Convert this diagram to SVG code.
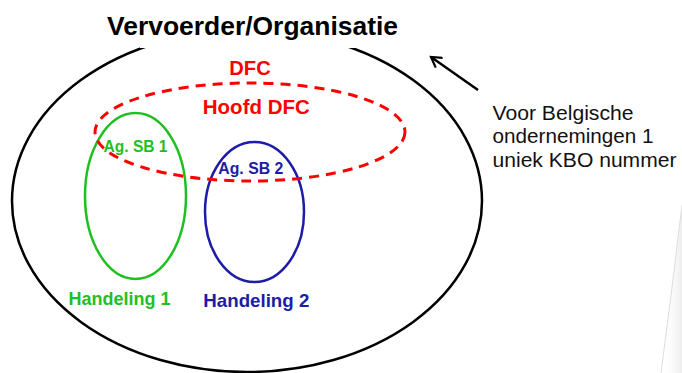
<svg xmlns="http://www.w3.org/2000/svg" width="682" height="373" viewBox="0 0 682 373">
  <defs>
    <style>
      .lbl { font-family: "Liberation Sans", Arial, sans-serif; font-weight: bold; text-anchor: middle; }
      .note { font-family: "Liberation Sans", Arial, sans-serif; font-size: 20.5px; fill: #111; }
      .red { fill: #ff0000; }
      .green { fill: #1fbf1f; }
      .blue { fill: #1c1ca8; }
    </style>
    <marker id="openArrow" markerWidth="14" markerHeight="14" refX="11" refY="7" orient="auto" markerUnits="userSpaceOnUse">
      <path d="M1,1 L11,7 L1,13" fill="none" stroke="#000" stroke-width="2.2"/>
    </marker>
    <linearGradient id="curl" x1="0" y1="0" x2="1" y2="0">
      <stop offset="0" stop-color="#ffffff" stop-opacity="0"/>
      <stop offset="1" stop-color="#eeeeee"/>
    </linearGradient>
  </defs>
  <rect x="0" y="0" width="682" height="373" fill="#ffffff"/>
  <path d="M682,205 Q672,290 661,373 L682,373 Z" fill="url(#curl)"/>
  <path d="M682,205 Q672,290 661,373" fill="none" stroke="#dddddd" stroke-width="1"/>

  <g id="organisatie">
    <ellipse cx="247" cy="201" rx="235" ry="171" fill="none" stroke="#000" stroke-width="2.5"/>
    <rect x="140" y="0" width="217" height="48" fill="#ffffff"/>
    <text class="lbl" x="252.5" y="34.5" font-size="26" fill="#000" textLength="291" lengthAdjust="spacingAndGlyphs">Vervoerder/Organisatie</text>
  </g>

  <g id="handeling1">
    <ellipse cx="135.5" cy="196" rx="50.5" ry="83" fill="none" stroke="#1fbf1f" stroke-width="2.5"/>
    <text class="lbl green" x="135.5" y="152" font-size="16.5" textLength="64" lengthAdjust="spacingAndGlyphs">Ag. SB 1</text>
    <text class="lbl green" x="119.5" y="305" font-size="19" textLength="102" lengthAdjust="spacingAndGlyphs">Handeling 1</text>
  </g>

  <g id="handeling2">
    <ellipse cx="254.5" cy="212" rx="49.5" ry="70" fill="none" stroke="#1c1ca8" stroke-width="2.5"/>
    <text class="lbl blue" x="250.8" y="173.5" font-size="16.5" textLength="65" lengthAdjust="spacingAndGlyphs">Ag. SB 2</text>
    <text class="lbl blue" x="256.3" y="307" font-size="19" textLength="106" lengthAdjust="spacingAndGlyphs">Handeling 2</text>
  </g>

  <g id="dfc">
    <ellipse cx="250" cy="132" rx="155" ry="49" fill="none" stroke="#ff0000" stroke-width="3" stroke-dasharray="10 7"/>
    <text class="lbl red" x="250" y="74.5" font-size="21" textLength="41.4" lengthAdjust="spacingAndGlyphs">DFC</text>
    <text class="lbl red" x="256.3" y="114" font-size="21" textLength="107" lengthAdjust="spacingAndGlyphs">Hoofd DFC</text>
  </g>

  <g id="note">
    <text class="note" x="492.5" y="119.5" textLength="141" lengthAdjust="spacingAndGlyphs">Voor Belgische</text>
    <text class="note" x="492.5" y="143" textLength="161" lengthAdjust="spacingAndGlyphs">ondernemingen 1</text>
    <text class="note" x="492.5" y="166.5" textLength="184" lengthAdjust="spacingAndGlyphs">uniek KBO nummer</text>
  </g>

  <g id="connectors">
    <line x1="478" y1="90" x2="431" y2="57" stroke="#000" stroke-width="2.5" marker-end="url(#openArrow)"/>
  </g>
</svg>
